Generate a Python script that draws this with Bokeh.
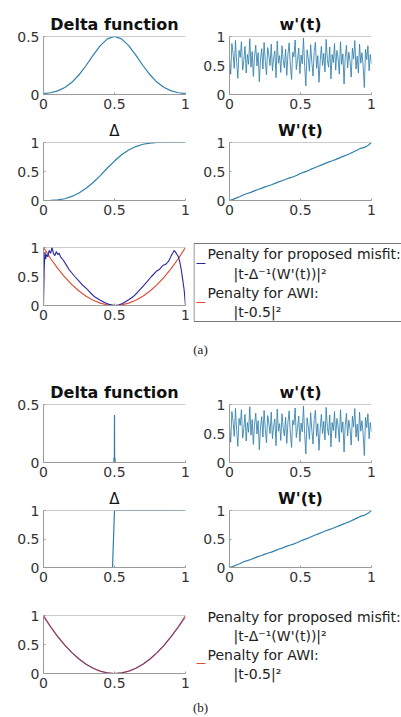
import numpy as np
from bokeh.plotting import figure
from bokeh.layouts import column, row
from bokeh.models import Range1d, FixedTicker, Span, Div
from bokeh.core.properties import value
from bokeh.embed import file_html
from bokeh.resources import INLINE

# ---------------- data ----------------
t21 = [0.0, 0.05, 0.1, 0.15, 0.2, 0.25, 0.3, 0.35, 0.4, 0.45, 0.5,
       0.55, 0.6, 0.65, 0.7, 0.75, 0.8, 0.85, 0.9, 0.95, 1.0]
delta_a = [0.007, 0.015, 0.031, 0.06, 0.105, 0.17, 0.25, 0.339, 0.421, 0.479, 0.5,
           0.479, 0.421, 0.339, 0.25, 0.17, 0.105, 0.06, 0.031, 0.015, 0.007]
cdf_a = [0.0, 0.003, 0.01, 0.03, 0.07, 0.13, 0.21, 0.31, 0.43, 0.56, 0.68,
         0.79, 0.87, 0.93, 0.97, 0.99, 1.0, 1.0, 1.0, 1.0, 1.0]
w_noise = [0.62, 0.35, 0.88, 0.71, 0.45, 0.93, 0.55, 0.28, 0.76, 0.64, 0.91, 0.42, 0.58, 0.83, 0.37,
           0.69, 0.52, 0.96, 0.47, 0.74, 0.31, 0.66, 0.85, 0.49, 0.72, 0.22, 0.61, 0.79, 0.44, 0.9,
           0.57, 0.34, 0.81, 0.68, 0.5, 0.87, 0.41, 0.63, 0.75, 0.29, 0.92, 0.54, 0.67, 0.38, 0.84,
           0.6, 0.46, 0.78, 0.33, 0.7, 0.89, 0.51, 0.26, 0.73, 0.65, 0.94, 0.43, 0.59, 0.8, 0.36,
           0.68, 0.53, 0.97, 0.48, 0.15, 0.77, 0.62, 0.4, 0.86, 0.56, 0.32, 0.74, 0.9, 0.45, 0.67,
           0.21, 0.58, 0.83, 0.5, 0.71, 0.39, 0.95, 0.6, 0.47, 0.82, 0.27, 0.69, 0.55, 0.88, 0.42,
           0.76, 0.63, 0.35, 0.91, 0.52, 0.7, 0.18, 0.64, 0.85, 0.46, 0.73, 0.57, 0.3, 0.8, 0.61,
           0.93, 0.44, 0.66, 0.37, 0.87, 0.54, 0.72, 0.49, 0.12, 0.78, 0.6, 0.84, 0.41, 0.69, 0.53]
W_cum = [0.0, 0.02, 0.045, 0.07, 0.1, 0.12, 0.14, 0.165, 0.19, 0.21, 0.235, 0.255, 0.275, 0.3,
         0.325, 0.345, 0.37, 0.39, 0.41, 0.435, 0.465, 0.49, 0.51, 0.54, 0.565, 0.59, 0.615,
         0.64, 0.665, 0.685, 0.71, 0.735, 0.76, 0.785, 0.81, 0.84, 0.87, 0.9, 0.915, 0.95, 1.0]
pen_t_a = [0, 0.005, 0.01, 0.015, 0.02, 0.03, 0.04, 0.05, 0.06, 0.07, 0.08, 0.09, 0.1, 0.11,
           0.12, 0.14, 0.16, 0.18, 0.2, 0.22, 0.25, 0.28, 0.3, 0.33, 0.36, 0.4, 0.43, 0.46, 0.5,
           0.53, 0.56, 0.6, 0.63, 0.66, 0.7, 0.73, 0.76, 0.8, 0.82, 0.84, 0.86, 0.88, 0.9, 0.91,
           0.92, 0.93, 0.94, 0.95, 0.96, 0.97, 0.98, 0.99, 1.0]
pen_blue_a = [0, 0.65, 0.92, 0.8, 0.88, 0.84, 0.95, 0.9, 1.0, 0.9, 0.86, 0.93, 0.88, 0.9,
              0.84, 0.78, 0.7, 0.62, 0.56, 0.5, 0.42, 0.34, 0.3, 0.22, 0.15, 0.09, 0.05, 0.02, 0.0,
              0.01, 0.04, 0.1, 0.15, 0.22, 0.33, 0.41, 0.5, 0.6, 0.63, 0.69, 0.71, 0.76, 0.86, 0.9,
              0.95, 0.92, 0.88, 0.84, 0.75, 0.62, 0.45, 0.28, 0.0]
pen_red = [1.0, 0.81, 0.64, 0.49, 0.36, 0.25, 0.16, 0.09, 0.04, 0.01, 0.0,
           0.01, 0.04, 0.09, 0.16, 0.25, 0.36, 0.49, 0.64, 0.81, 1.0]
pen_blue_b = [0.98, 0.8, 0.63, 0.49, 0.36, 0.25, 0.16, 0.09, 0.04, 0.01, 0.0,
              0.01, 0.04, 0.09, 0.16, 0.25, 0.36, 0.49, 0.64, 0.8, 0.97]
spike_t = [0.0, 0.495, 0.497, 0.499, 0.5, 0.501, 0.503, 0.505, 1.0]
spike_y = [0.0, 0.0, 0.04, 0.0, 0.41, 0.0, 0.04, 0.0, 0.0]
step_t = [0.0, 0.486, 0.5, 1.0]
step_y = [0.0, 0.0, 1.0, 1.0]
tick_vals = [0, 0.5, 1]
tick_text = ["0", "0.5", "1"]
titles = ["Delta function", "w'(t)", "\u0394", "W'(t)"]
legend_labels = ["Penalty for proposed misfit:", "|t-\u0394\u207b\u00b9(W'(t))|\u00b2",
                 "Penalty for AWI:", "|t-0.5|\u00b2"]
captions = ["(a)", "(b)"]

# ---------------- style ----------------
AX = "#9a9a9a"
CURVE = "#2f7fab"
BLUE = "#2626a0"
RED = "#e0503a"
FONT = "DejaVu Sans"


def make_fig(w, h, bl, br, bt, bb, ytop, title=None, bold=True):
    p = figure(width=w, height=h, x_range=Range1d(0, 1), y_range=Range1d(0, ytop),
               output_backend="svg", toolbar_location=None,
               min_border_left=bl, min_border_right=br, min_border_top=bt, min_border_bottom=bb)
    p.outline_line_color = None
    p.xgrid.visible = False
    p.ygrid.visible = False
    p.background_fill_color = "white"
    p.border_fill_color = "white"
    overrides = {float(v): s for v, s in zip(tick_vals, tick_text)}
    p.xaxis.ticker = FixedTicker(ticks=tick_vals)
    p.yaxis.ticker = FixedTicker(ticks=[v for v in tick_vals if v <= ytop])
    for ax in (p.xaxis, p.yaxis):
        ax.major_label_overrides = overrides
        ax.axis_line_color = AX
        ax.major_tick_line_color = AX
        ax.major_tick_in = 2
        ax.major_tick_out = 0
        ax.minor_tick_line_color = None
        ax.major_label_text_font = FONT
        ax.major_label_text_font_size = "14px"
        ax.major_label_text_color = "#333333"
        ax.major_label_standoff = 4
    p.add_layout(Span(location=ytop, dimension="width", line_color=AX, line_width=1))
    if title is not None:
        p.title.text = title
        p.title.align = "center"
        p.title.text_font = FONT
        p.title.text_font_size = "16px" if bold else "15px"
        p.title.text_font_style = "bold" if bold else "normal"
        p.title.text_color = "#111111"
        p.title.standoff = 5
    return p


def top_rows(h1, b1, h2, b2, delta_y, delta_t, delta_top, cdf_t, cdf_y):
    f1 = make_fig(199, h1, 43, 14, b1[0], b1[1], delta_top, titles[0])
    f1.line(delta_t, delta_y, line_color=CURVE, line_width=1.2)
    f2 = make_fig(202, h1, 30, 30, b1[0], b1[1], 1, titles[1])
    f2.line(np.linspace(0, 1, len(w_noise)), w_noise, line_color=CURVE, line_width=0.85)
    f3 = make_fig(199, h2, 43, 14, b2[0], b2[1], 1, titles[2], bold=False)
    f3.line(cdf_t, cdf_y, line_color=CURVE, line_width=1.2)
    f4 = make_fig(202, h2, 30, 30, b2[0], b2[1], 1, titles[3])
    f4.line(np.linspace(0, 1, len(W_cum)), W_cum, line_color=CURVE, line_width=1.2)
    return row(f1, f2), row(f3, f4)


def legend_fig(h, boxed, text_y, blue_y, red_y, show_blue):
    # a key panel in pixel units (y downward from the panel top)
    k = figure(width=208, height=h, x_range=Range1d(0, 208), y_range=Range1d(h, 0),
               output_backend="svg", toolbar_location=None, x_axis_type=None, y_axis_type=None,
               min_border_left=0, min_border_right=0, min_border_top=0, min_border_bottom=0,
               frame_align=False)
    k.outline_line_color = None
    k.xgrid.visible = False
    k.ygrid.visible = False
    k.background_fill_color = "white"
    k.border_fill_color = "white"
    if boxed:
        k.quad(left=[0.5], right=[230], top=[text_y[0] - 10], bottom=[text_y[3] + 9.5],
               fill_color="white", line_color="#777777", line_width=1)
    k.text(x=[14, 40, 14, 40], y=text_y, text=legend_labels,
           text_font=value(FONT), text_font_size=value("14px"),
           text_color="#222222", text_baseline="middle", text_align="left")
    if show_blue:
        k.segment(x0=[3], y0=[blue_y], x1=[12], y1=[blue_y], line_color=BLUE, line_width=1.2)
    k.segment(x0=[3], y0=[red_y], x1=[12], y1=[red_y], line_color=RED, line_width=1.2)
    return k


def penalty_row(h, bt, bb, blue_t, blue_y, blue_alpha, boxed, text_y, bly, rly, show_blue):
    p = make_fig(193, h, 43, 8, bt, bb, 1)
    p.line(t21, pen_red, line_color=RED, line_width=1.2)
    p.line(blue_t, blue_y, line_color=BLUE, line_width=1.1, line_alpha=blue_alpha)
    return row(p, legend_fig(h, boxed, text_y, bly, rly, show_blue))


def caption(txt, h, pad):
    return Div(text=('<div style="width:401px;text-align:center;'
                     'font-family:\'Liberation Serif\',serif;'
                     'font-size:13px;color:#222;padding-top:%dpx">%s</div>' % (pad, txt)),
               width=401, height=h, margin=0)


r1a, r2a = top_rows(116, (36, 22), 111, (26, 27), delta_a, t21, 0.5, t21, cdf_a)
p5a = penalty_row(100, 20, 22, pen_t_a, pen_blue_a, 1.0, True, [26, 46.5, 65, 84.5], 36, 75, True)
cap_a = caption(captions[0], 51, 14)
r1b, r2b = top_rows(106, (25, 22), 111, (24, 28), spike_y, spike_t, 0.5, step_t, step_y)
p5b = penalty_row(100, 20, 22, t21, pen_blue_b, 0.55, False, [21, 40, 59, 78], 31, 68, False)
cap_b = caption(captions[1], 20, 4)

layout = column(r1a, r2a, p5a, cap_a, r1b, r2b, p5b, cap_b)

open("out.html", "w").write(file_html(layout, INLINE))
